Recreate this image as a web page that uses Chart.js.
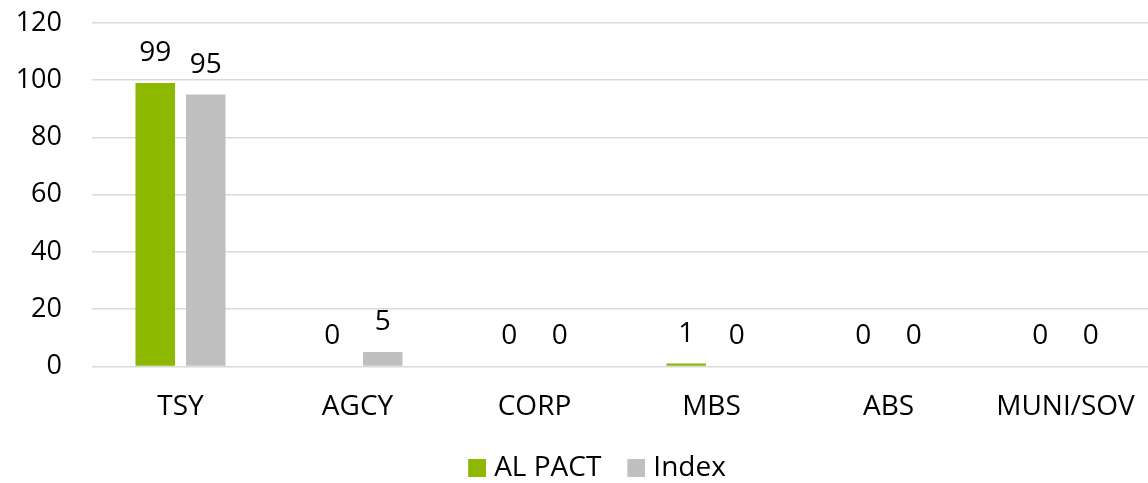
<!DOCTYPE html>
<html>
<head>
<meta charset="utf-8">
<script src="https://cdn.jsdelivr.net/npm/chart.js@4/dist/chart.umd.min.js"></script>
<style>
  html, body { margin: 0; padding: 0; background: #fff; overflow: hidden; }
  #wrap { width: 1154px; height: 483px; }
</style>
</head>
<body>
<div id="wrap"><canvas id="c" width="1154" height="483"></canvas></div>
<script>
// Sector allocation: portfolio vs. index (%)
const categories = ['TSY', 'AGCY', 'CORP', 'MBS', 'ABS', 'MUNI/SOV'];
const seriesNames = ['AL PACT', 'Index'];
const portfolioValues = [99, 0, 0, 1, 0, 0];
const indexValues = [95, 5, 0, 0, 0, 0];
const yTicks = [0, 20, 40, 60, 80, 100, 120];
const seriesColors = ['#8CB800', '#BFBFBF'];

const FONT = "'Open Sans', 'Liberation Sans', sans-serif";

// Legend swatch: an 18px square drawn at the right of a wider image, so the
// label text sits close to it
function swatch(color) {
  const c = document.createElement('canvas');
  c.width = 24; c.height = 18;
  const g = c.getContext('2d');
  g.fillStyle = color;
  g.fillRect(6, 0, 18, 18);
  return c;
}
const swatches = seriesColors.map(swatch);

// Writes each bar's value just above it
const valueLabels = {
  id: 'valueLabels',
  afterDatasetsDraw(chart) {
    const ctx = chart.ctx;
    ctx.save();
    ctx.font = '28px ' + FONT;
    ctx.fillStyle = '#000';
    ctx.textAlign = 'center';
    ctx.textBaseline = 'middle';
    chart.data.datasets.forEach((ds, i) => {
      chart.getDatasetMeta(i).data.forEach((bar, j) => {
        ctx.fillText(String(ds.data[j]), bar.x, bar.y - 30);
      });
    });
    ctx.restore();
  }
};

// Nudges the legend row to the right
const legendShift = {
  id: 'legendShift',
  afterLayout(chart) {
    chart.legend.left += 20;
    chart.legend.right += 20;
  }
};

new Chart(document.getElementById('c'), {
  type: 'bar',
  data: {
    labels: categories,
    datasets: [
      { label: seriesNames[0], data: portfolioValues, backgroundColor: seriesColors[0] },
      { label: seriesNames[1], data: indexValues, backgroundColor: seriesColors[1] }
    ]
  },
  options: {
    responsive: false,
    animation: false,
    layout: { padding: { top: 23, left: 0, right: 0, bottom: -9 } },
    datasets: { bar: { categoryPercentage: 0.571, barPercentage: 0.782 } },
    scales: {
      x: {
        grid: { display: false },
        border: { display: false },
        afterFit(scale) { scale.height -= 12; },
        ticks: { color: '#000', font: { family: FONT, size: 28 }, padding: 16 }
      },
      y: {
        min: 0,
        max: 120,
        afterBuildTicks(scale) { scale.ticks = yTicks.map(v => ({ value: v })); },
        afterFit(scale) {
          scale.width = 92;
          scale.paddingTop = 0;
          scale.paddingBottom = 0;
        },
        grid: { color: '#D9D9D9', lineWidth: 1.5, drawTicks: false },
        border: { display: false },
        ticks: { color: '#000', font: { family: FONT, size: 27 }, padding: 30 }
      }
    },
    plugins: {
      legend: {
        position: 'bottom',
        labels: {
          color: '#000',
          font: { family: FONT, size: 28 },
          usePointStyle: true,
          pointStyleWidth: 12,
          boxHeight: 18,
          padding: 26,
          generateLabels(chart) {
            const items = Chart.defaults.plugins.legend.labels.generateLabels(chart);
            items.forEach((it, i) => { it.pointStyle = swatches[i]; });
            return items;
          }
        }
      },
      tooltip: { enabled: false }
    }
  },
  plugins: [valueLabels, legendShift]
});
</script>
</body>
</html>
